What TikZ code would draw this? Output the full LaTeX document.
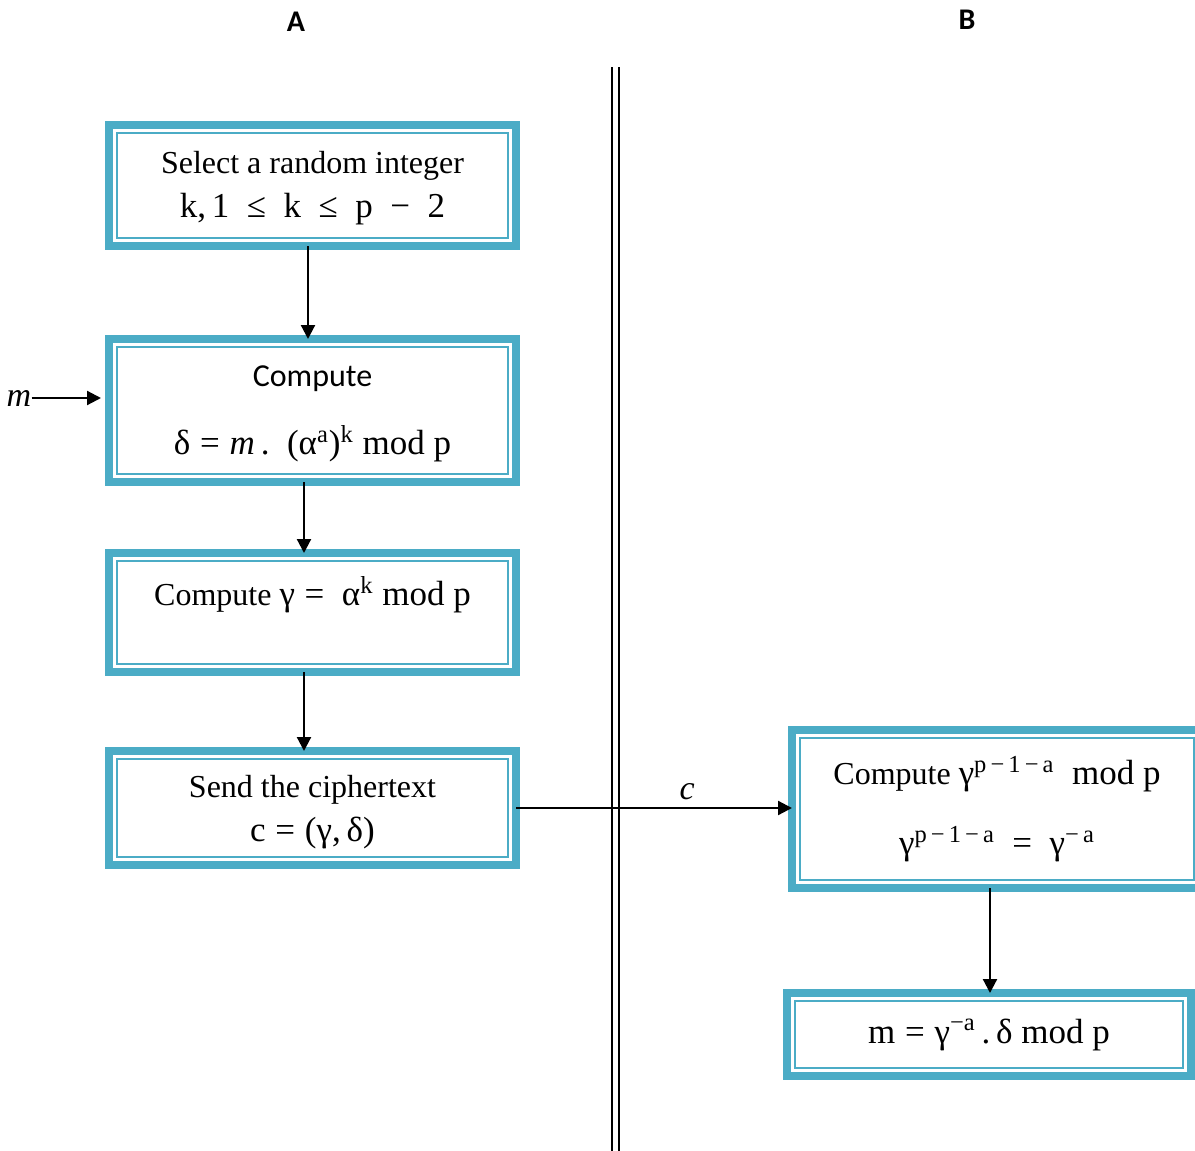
\documentclass[tikz,border=0pt]{standalone}
\usepackage{fontspec}
\setmainfont{Liberation Serif}
\newfontfamily\carlito{Carlito}
\usetikzlibrary{arrows.meta}
\definecolor{boxteal}{HTML}{4BACC6}
\newcommand{\mth}[1]{{\fontsize{17.5}{22}\selectfont #1}}
\tikzset{
  stepbox/.style={draw=boxteal, line width=4pt, outer sep=0pt, align=center,
    font=\fontsize{16}{22}\selectfont,
    append after command={\pgfextra{\draw[boxteal, line width=1pt]
      ([shift={(4pt,4pt)}]\tikzlastnode.south west) rectangle
      ([shift={(-4pt,-4pt)}]\tikzlastnode.north east);}}},
  flow/.style={line width=1.1pt, ->},
  side/.style={font=\carlito\bfseries\fontsize{15}{18}\selectfont}
}
\begin{document}
\begin{tikzpicture}[x=0.5pt, y=-0.5pt, >={Triangle[length=7pt,width=7pt]}]
    \useasboundingbox (0,0) rectangle (1195,1151);
    \node[side] (sideA) at (296,22) {A};
    \node[side] (sideB) at (967,20) {B};

    % boxes of A
    \node[stepbox, minimum width=203.5pt, minimum height=60.5pt, text depth=1pt] (pick) at (312.5,185.5)
      {Select a random integer\\ \mth{k,\,1 \ ≤ \ k \ ≤ \ p \ − \ 2}};
    \node[stepbox, minimum width=203.5pt, minimum height=71.5pt, text depth=0pt] (delta) at (312.5,410.5)
      {{\carlito Compute}\\[12pt] \mth{δ\;=\;\textit{m}\,.\ \ (α\textsuperscript{a})\textsuperscript{k} mod p}};
    \node[stepbox, minimum width=203.5pt, minimum height=59.5pt, text depth=21.5pt] (gamma) at (312.5,612.5)
      {Compute \mth{γ\;= \ α\textsuperscript{k} mod p}};
    \node[stepbox, minimum width=203.5pt, minimum height=57pt, text depth=0pt] (send) at (312.5,808)
      {Send the ciphertext\\ \mth{c\;=\;(γ,\,δ)}};

    % boxes of B
    \node[stepbox, minimum width=205pt, minimum height=79pt] (power) at (997,809)
      {Compute \mth{γ\textsuperscript{p\,−\,1\,−\,a} \ mod p}\\[13pt]
       \mth{γ\textsuperscript{p\,−\,1\,−\,a} \ = \ γ\textsuperscript{−\,a}}};
    \node[stepbox, minimum width=202pt, minimum height=41.5pt] (plain) at (989,1034.5)
      {\mth{m\;=\;γ\textsuperscript{−a}\,.\,δ mod p}};

    \node[font=\itshape\fontsize{17}{20}\selectfont, inner sep=0pt] (msg) at (19,398) {m};

    % divider
    \draw[line width=1pt, double, double distance=2.5pt] (615.5,67) -- (615.5,1160);

    \draw[flow] ([xshift=-2.25pt]pick.south) -- ([xshift=-2.25pt]delta.north);
    \draw[flow] ([xshift=-4.25pt]delta.south) -- ([xshift=-4.25pt]gamma.north);
    \draw[flow] ([xshift=-4.25pt]gamma.south) -- ([xshift=-4.25pt]send.north);
    \draw[flow, shorten >=4pt] (msg.east) -- (msg.east -| delta.west);
    \draw[flow] (send.east) -- (send.east -| power.west)
      node[above, pos=0.62, font=\itshape\fontsize{17}{20}\selectfont] {c};
    \draw[flow] ([xshift=-3.5pt]power.south) -- ([xshift=-3.5pt]power.south |- plain.north);
\end{tikzpicture}
\end{document}
